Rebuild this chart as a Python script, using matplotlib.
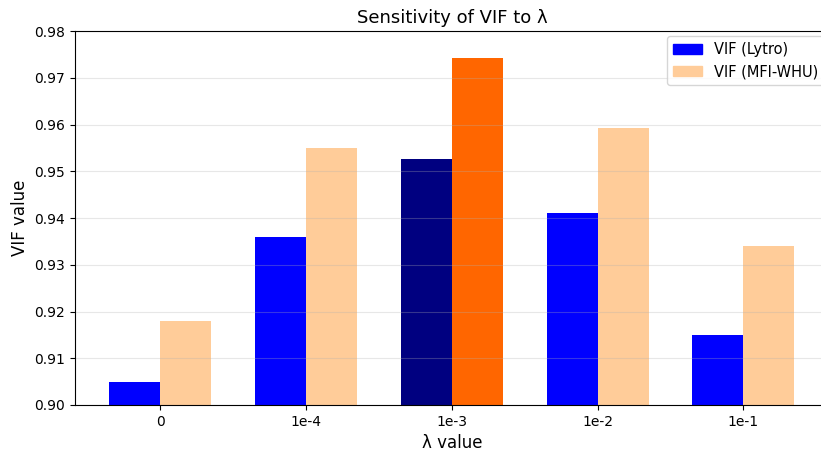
import matplotlib
matplotlib.use("Agg")
import matplotlib.pyplot as plt
import numpy as np
from matplotlib.patches import Patch

categories = ["0", "1e-4", "1e-3", "1e-2", "1e-1"]
vif_lytro = [0.905, 0.936, 0.9527, 0.941, 0.915]
vif_mfi = [0.918, 0.955, 0.9742, 0.9593, 0.934]
highlight_idx = 2

fig = plt.figure(figsize=(8.21, 4.51), dpi=100)
ax = fig.add_axes([0.0914, 0.102, 0.918, 0.829])

x = np.arange(len(categories))
w = 0.35
c1 = ["#000080" if i == highlight_idx else "#0000ff" for i in range(len(x))]
c2 = ["#ff6600" if i == highlight_idx else "#ffcc99" for i in range(len(x))]
ax.bar(x - w/2, vif_lytro, w, color=c1, label="VIF (Lytro)")
ax.bar(x + w/2, vif_mfi, w, color=c2, label="VIF (MFI-WHU)")

ax.set_ylim(0.90, 0.98)
ax.set_xlim(-0.585, 4.585)
ax.set_xticks(x)
ax.set_xticklabels(categories)
yt = np.arange(0.90, 0.981, 0.01)
ax.set_yticks(yt)
ax.set_yticklabels([f"{v:.2f}" for v in yt])
ax.tick_params(labelsize=10)
ax.grid(axis="y", alpha=0.3)
ax.spines["right"].set_visible(False)
ax.set_xlabel("λ value", fontsize=12)
ax.set_ylabel("VIF value", fontsize=12)
ax.set_title("Sensitivity of VIF to λ", fontsize=13)

handles = [Patch(color="#0000ff"), Patch(color="#ffcc99")]
ax.legend(handles, ["VIF (Lytro)", "VIF (MFI-WHU)"], loc="upper right",
          bbox_to_anchor=(1.003, 1.006), fontsize=10.5)

fig.savefig("out.png", dpi=100)
